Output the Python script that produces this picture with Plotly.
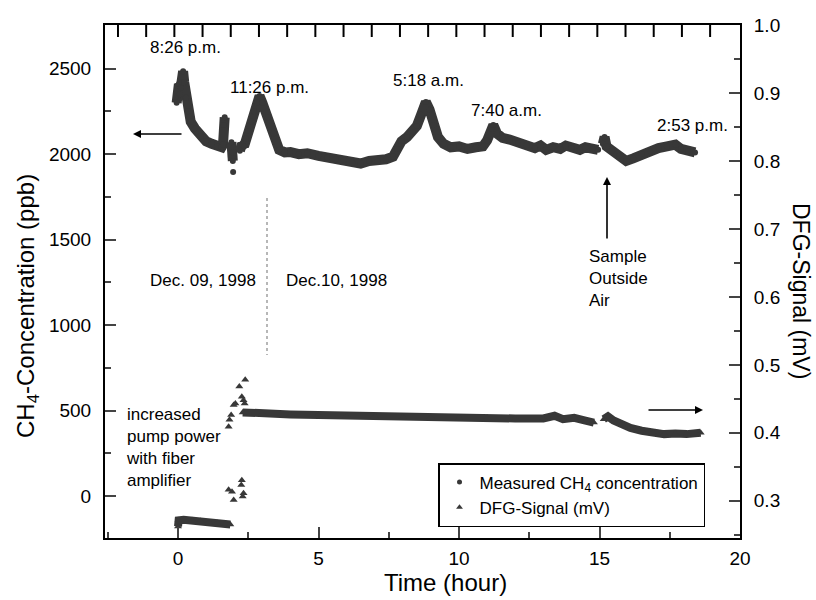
import plotly.graph_objects as go

# ---------------- data ----------------
ch4_hours = [-0.05, -0.03, 0.0, 0.03, 0.06, 0.1, 0.14, 0.18, 0.22, 0.28, 0.35, 0.45, 0.6, 0.8,
             1.0, 1.2, 1.4, 1.55, 1.6, 1.63, 1.66, None,
             1.9, 1.93, 1.95, None,
             1.96, None,
             2.2, 2.28, 2.35, 2.42, 2.5, 2.6, 2.7, 2.8, 2.9, 3.0, 3.2, 3.4, 3.6, 3.8, 4.0, 4.3,
             4.6, 5.0, 5.3, 5.6, 5.9, 6.2, 6.5, 6.8, 7.1, 7.4, 7.65, 7.8, 7.95, 8.15, 8.35,
             8.5, 8.65, 8.82, 8.95, 9.1, 9.25, 9.45, 9.7, 10.0, 10.3, 10.6, 10.85, 11.0,
             11.15, 11.22, 11.35, 11.55, 11.8, 12.1, 12.4, 12.7, 12.9, 13.1, 13.35, 13.6,
             13.8, 14.0, 14.3, 14.5, 14.75, 14.95, None,
             15.12, 15.18, 15.25, 15.45, 15.7, 15.95, 16.2, 16.5, 16.8, 17.1, 17.4, 17.7,
             17.9, 18.15, 18.4]
ch4_ppb = [2300, 2400, 2340, 2410, 2350, 2390, 2420, 2485, 2420, 2330, 2250, 2190, 2150, 2105,
           2075, 2060, 2045, 2040, 2055, 2170, 2215, None,
           2070, 2010, 1960, None,
           1895, None,
           2020, 2060, 2045, 2090, 2135, 2190, 2250, 2300, 2340, 2300, 2215, 2120, 2025, 2010, 2012, 2000,
           2005, 1990, 1980, 1970, 1965, 1950, 1945, 1960, 1958, 1970, 1985, 2030, 2075, 2100, 2130,
           2165, 2230, 2305, 2260, 2170, 2100, 2060, 2040, 2045, 2030, 2040, 2045, 2080,
           2150, 2170, 2120, 2095, 2085, 2065, 2050, 2035, 2050, 2025, 2040, 2030,
           2050, 2035, 2025, 2040, 2030, 2025, None,
           2060, 2100, 2045, 2020, 1990, 1960, 1975, 2000, 2015, 2035, 2045, 2055,
           2030, 2015, 2010]

dfg_hours = [0.0, 0.02, 0.2, 0.5, 0.8, 1.1, 1.4, 1.7, 1.86, None,
             1.80, None, 1.92, None, 1.98, None, 2.27, None, 2.25, None, 2.33, None, 2.30, None,
             1.80, None, 1.83, None, 1.89, None, 1.98, None, 2.04, None, 2.18, None, 2.39, None,
             2.27, None, 2.33, None, 2.37, None,
             2.3, 3.0, 4.0, 5.0, 6.0, 7.0, 8.0, 9.0, 10.0, 11.0, 12.0, 13.0, 13.4, 13.7, 14.1,
             14.5, 14.8, None,
             15.15, 15.3, 15.5, 15.8, 16.1, 16.5, 16.9, 17.3, 17.7, 18.1, 18.6]
dfg_mv = [0.262, 0.271, 0.272, 0.271, 0.270, 0.268, 0.267, 0.266, 0.265, None,
          0.316, None, 0.313, None, 0.301, None, 0.330, None, 0.323, None, 0.311, None, 0.306, None,
          0.409, None, 0.419, None, 0.426, None, 0.441, None, 0.443, None, 0.468, None, 0.478, None,
          0.453, None, 0.448, None, 0.443, None,
          0.430, 0.428, 0.427, 0.426, 0.425, 0.424, 0.423, 0.423, 0.422, 0.422, 0.421, 0.421, 0.425,
          0.420, 0.422, 0.418, 0.415, None,
          0.420, 0.424, 0.418, 0.412, 0.407, 0.403, 0.400, 0.398, 0.399, 0.398, 0.400]

x_ticks = [0, 5, 10, 15, 20]
y_left_ticks = [0, 500, 1000, 1500, 2000, 2500]
top_ticks = list(range(0, 22))   # top frame ticks (unlabelled scale)
TOP_RANGE = (-0.46, 22.06)

time_labels = ["8:26 p.m.", "11:26 p.m.", "5:18 a.m.", "7:40 a.m.", "2:53 p.m."]

# ---------------- layout helpers ----------------
L, R, T, B = 105, 740, 25, 538
W, H = 816, 600


def px(x):
    return (x - L) / (R - L)


def py(y):
    return (B - y) / (B - T)


FONT = "Arial, Liberation Sans, sans-serif"
DARK = "#383838"

fig = go.Figure()

fig.add_trace(go.Scatter(x=ch4_hours, y=ch4_ppb, mode="lines+markers",
                         line=dict(color=DARK, width=10), marker=dict(color=DARK, size=6),
                         connectgaps=False, showlegend=False))
fig.add_trace(go.Scatter(x=dfg_hours, y=dfg_mv, yaxis="y2", mode="lines+markers",
                         line=dict(color=DARK, width=8),
                         marker=dict(color=DARK, size=7, symbol="triangle-up"),
                         connectgaps=False, showlegend=False))
# legend entries
fig.add_trace(go.Scatter(x=[None], y=[None], mode="markers", name="Measured CH<sub>4</sub> concentration",
                         marker=dict(color=DARK, size=5, symbol="circle")))
fig.add_trace(go.Scatter(x=[None], y=[None], mode="markers", name="DFG-Signal (mV)",
                         marker=dict(color=DARK, size=6, symbol="triangle-up")))

tickfont = dict(family=FONT, size=19, color="black")

fig.update_layout(
    width=W, height=H,
    margin=dict(l=L, r=W - R, t=T, b=H - B, autoexpand=False),
    paper_bgcolor="white", plot_bgcolor="white",
    font=dict(family=FONT, color="black"),
    xaxis=dict(range=[-2.6, 20], tickvals=x_ticks, ticks="inside", ticklen=11, tickwidth=1.5,
               minor=dict(dtick=2.5, tick0=0, ticks="inside", ticklen=6, tickwidth=1.5),
               showline=True, mirror=True, linewidth=2, linecolor="black", showgrid=False,
               zeroline=False, tickfont=tickfont, ticklabelstandoff=2),
    yaxis=dict(range=[-245, 2755], tickvals=y_left_ticks, ticks="inside", ticklen=11, tickwidth=1.5,
               minor=dict(dtick=250, tick0=0, ticks="inside", ticklen=6, tickwidth=1.5),
               showline=True, linewidth=2, linecolor="black", showgrid=False, zeroline=False,
               tickfont=tickfont, ticklabelstandoff=8),
    yaxis2=dict(range=[0.245, 1.0005], overlaying="y", side="right", tick0=0.3, dtick=0.1,
                tickformat=".1f", ticks="inside", ticklen=11, tickwidth=1.5,
                minor=dict(dtick=0.05, tick0=0.25, ticks="inside", ticklen=6, tickwidth=1.5),
                showline=True, linewidth=2, linecolor="black", showgrid=False, zeroline=False,
                tickfont=tickfont, ticklabelstandoff=8),
    legend=dict(x=px(438), y=py(463), xanchor="left", yanchor="top",
                bordercolor="black", borderwidth=1.5, bgcolor="white",
                font=dict(family=FONT, size=17, color="black"), tracegroupgap=0,
                itemwidth=30),
    showlegend=True,
)

# top frame ticks
tick_len = 12 / (B - T)
for v in top_ticks:
    xp = (v - TOP_RANGE[0]) / (TOP_RANGE[1] - TOP_RANGE[0])
    fig.add_shape(type="line", xref="paper", yref="paper", x0=xp, x1=xp, y0=1.0, y1=1.0 - tick_len,
                  line=dict(color="black", width=2), layer="above")


def label(text, xx, yy, size=17, xanchor="center", align="center", angle=0):
    fig.add_annotation(x=px(xx), y=py(yy), xref="paper", yref="paper", text=text,
                       xanchor=xanchor, yanchor="middle", align=align, textangle=angle,
                       showarrow=False, font=dict(family=FONT, size=size, color="black"))


label_pos = [(185, 47), (269, 87), (428, 80), (506, 110), (692, 125)]
for txt, (xx, yy) in zip(time_labels, label_pos):
    label(txt, xx, yy)

label("Dec. 09, 1998", 203, 280)
label("Dec.10, 1998", 336, 280)
label("Sample<br>Outside<br>Air", 587, 278, xanchor="left", align="left")
label("increased<br>pump power<br>with fiber<br>amplifier", 124, 447, xanchor="left", align="left")


# arrows
def arrow(xx, yy, ax, ay):
    fig.add_annotation(x=px(xx), y=py(yy), xref="paper", yref="paper", ax=ax, ay=ay, text="",
                       showarrow=True, arrowhead=2, arrowsize=1, arrowwidth=1.6, arrowcolor="black")


arrow(133, 134, 50, 0)
arrow(703, 410, -56, 0)
arrow(607, 177, 0, 63)

# dashed day separator
fig.add_shape(type="line", xref="paper", yref="paper", x0=px(267), x1=px(267), y0=py(198), y1=py(355),
              line=dict(color="#888888", width=1.2, dash="dot"))

# axis titles
label("CH<sub>4</sub>-Concentration (ppb)", 27, 306, size=24, angle=-90)
label("DFG-Signal (mV)", 801, 291, size=23, angle=90)
label("Time (hour)", 445, 582, size=24)

fig.write_html(
    "out.html",
    config={"displayModeBar": False},
    post_script="document.body.style.margin='0';document.body.style.overflow='hidden';",
)
